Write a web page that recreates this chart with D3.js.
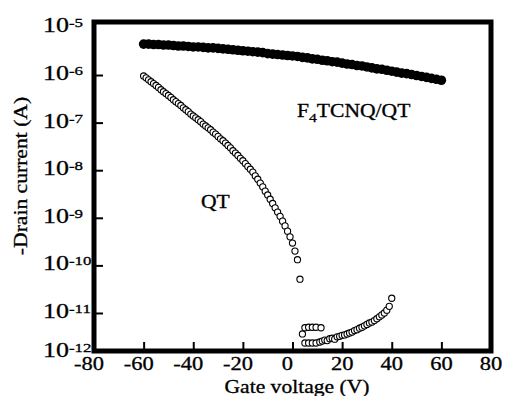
<!DOCTYPE html>
<html>
<head>
<meta charset="utf-8">
<script src="https://cdn.jsdelivr.net/npm/d3@7"></script>
<style>
  body { margin: 0; background: #fff; }
  text { font-family: "Liberation Serif", "Times New Roman", serif; fill: #000; stroke: #000; stroke-width: 0.3; }
</style>
</head>
<body>
<svg id="chart" width="505" height="396"></svg>
<script>
// gate voltage (V) and log10(-drain current / A)
const f4V = [-60,-58,-56,-54,-52,-50,-48,-46,-44,-42,-40,-38,-36,-34,-32,-30,-28,-26,-24,-22,
  -20,-18,-16,-14,-12,-10,-8,-6,-4,-2,0,2,4,6,8,10,12,14,16,18,20,22,24,26,28,30,32,34,36,38,
  40,42,44,46,48,50,52,54,56,58,60];
const f4LogI = [-5.35,-5.35,-5.36,-5.36,-5.37,-5.37,-5.38,-5.39,-5.39,-5.40,
  -5.41,-5.41,-5.42,-5.43,-5.43,-5.44,-5.45,-5.46,-5.47,-5.48,
  -5.49,-5.50,-5.51,-5.52,-5.53,-5.55,-5.56,-5.57,-5.58,-5.59,
  -5.60,-5.61,-5.63,-5.64,-5.66,-5.67,-5.69,-5.70,-5.72,-5.73,
  -5.75,-5.77,-5.78,-5.80,-5.81,-5.83,-5.85,-5.87,-5.88,-5.90,
  -5.92,-5.94,-5.96,-5.97,-5.99,-6.01,-6.03,-6.05,-6.07,-6.09,
  -6.11];

const qtSweepV = [-60,-59,-58,-57,-56,-55,-54,-53,-52,-51,-50,-49,-48,-47,-46,-45,-44,-43,-42,-41,
  -40,-39,-38,-37,-36,-35,-34,-33,-32,-31,-30,-29,-28,-27,-26,-25,-24,-23,-22,-21,
  -20,-19,-18,-17,-16,-15,-14,-13,-12,-11,-10,-9,-8,-7,-6,-5,-4,-3,-2,-1,0,1,2,3];
const qtSweepLogI = [-6.02,-6.06,-6.10,-6.14,-6.18,-6.22,-6.26,-6.31,-6.35,-6.39,
  -6.43,-6.47,-6.52,-6.56,-6.60,-6.64,-6.69,-6.73,-6.77,-6.82,
  -6.86,-6.90,-6.94,-6.98,-7.03,-7.07,-7.11,-7.15,-7.20,-7.24,
  -7.29,-7.34,-7.38,-7.43,-7.48,-7.53,-7.59,-7.64,-7.69,-7.75,
  -7.80,-7.86,-7.92,-7.98,-8.04,-8.12,-8.19,-8.27,-8.35,-8.44,
  -8.52,-8.61,-8.70,-8.79,-8.88,-8.97,-9.07,-9.17,-9.28,-9.40,
  -9.53,-9.70,-9.88,-10.29];

const qtLowV = [4, 5, 6.5, 8, 9.5, 11.5, 5, 6.5, 8, 9.5,
  11,12,13,14,15,16,17,18,19,20,21,22,23,24,25,26,27,28,29,30,31,32,33,34,35,36,37,38,39,40];
const qtLowLogI = [-11.44, -11.31,-11.30,-11.30,-11.30,-11.31, -11.63,-11.63,-11.63,-11.63,
  -11.61,-11.59,-11.57,-11.58,-11.54,-11.53,-11.55,-11.50,-11.49,-11.47,
  -11.46,-11.44,-11.42,-11.40,-11.37,-11.35,-11.32,-11.30,-11.27,-11.24,
  -11.21,-11.19,-11.16,-11.12,-11.08,-11.04,-11.00,-10.94,-10.86,-10.69];

const xTicks = [-80,-60,-40,-20,0,20,40,60,80];
const yExponents = [-5,-6,-7,-8,-9,-10,-11];
const yBottomExponent = -12;

const svg = d3.select("#chart");
svg.append("rect").attr("width", 505).attr("height", 396).attr("fill", "#fff");

const x = d3.scaleLinear().domain([-80, 80]).range([94, 491]);
const y = d3.scaleLog().domain([1.59e-12, 1.3e-5]).range([351, 22]);

const toPts = (vs, ls) => vs.map((v, i) => [v, Math.pow(10, ls[i])]);

// stretched serif text, the figure's lettering is wide
const label = (g, tx, ty, anchor, size, extra = "", sx = 1.2) =>
  g.append("text")
    .attr("transform", `translate(${tx},${ty}) ${extra} scale(${sx},1)`)
    .attr("text-anchor", anchor)
    .style("font-size", size + "px");

// ticks
svg.append("g")
  .attr("transform", `translate(${x(-80)},0)`)
  .call(d3.axisLeft(y).tickValues(yExponents.slice(1).map(e => Math.pow(10, e))).tickSize(-9).tickFormat(""))
  .call(g => g.select(".domain").remove())
  .call(g => g.selectAll("line").attr("stroke", "#000").attr("stroke-width", 2));

svg.append("g")
  .attr("transform", `translate(0,${y.range()[0]})`)
  .call(d3.axisBottom(x).tickValues(xTicks.slice(1, -1)).tickSize(-9).tickFormat(""))
  .call(g => g.select(".domain").remove())
  .call(g => g.selectAll("line").attr("stroke", "#000").attr("stroke-width", 2));

// data
svg.append("g").selectAll("circle")
  .data(toPts(f4V, f4LogI))
  .join("circle")
  .attr("cx", d => x(d[0])).attr("cy", d => y(d[1]))
  .attr("r", 4.8).attr("fill", "#000");

svg.append("g").selectAll("circle")
  .data(toPts(qtSweepV, qtSweepLogI).concat(toPts(qtLowV, qtLowLogI)))
  .join("circle")
  .attr("cx", d => x(d[0])).attr("cy", d => y(d[1]))
  .attr("r", 3.1).attr("fill", "#fff").attr("stroke", "#000").attr("stroke-width", 1.1);

// frame
svg.append("rect")
  .attr("x", x(-80)).attr("y", y.range()[1])
  .attr("width", x(80) - x(-80)).attr("height", y.range()[0] - y.range()[1])
  .attr("fill", "none").attr("stroke", "#000").attr("stroke-width", 5);

// tick labels
xTicks.forEach(v => {
  label(svg, x(v) + (v <= 0 ? -5 : 0), 370, "middle", 18, "", 1.25).text(v);
});

yExponents.forEach(e => {
  const t = label(svg, 43, y(Math.pow(10, e)) + 5, "start", 20, "", 1.3);
  t.append("tspan").text("10");
  t.append("tspan").attr("dy", -5).style("font-size", "13px").text(e);
});
{
  const t = label(svg, 43, y.range()[0] + 6, "start", 20, "", 1.3);
  t.append("tspan").text("10");
  t.append("tspan").attr("dy", -5).style("font-size", "13px").text(yBottomExponent);
}

// axis titles
label(svg, 297, 393, "middle", 18).text("Gate voltage (V)");
label(svg, 27, 176, "middle", 18, "rotate(-90)").text("-Drain current (A)");

// series labels
label(svg, 201, 208, "start", 18).text("QT");
{
  const t = label(svg, 297, 117, "start", 18);
  t.append("tspan").text("F");
  t.append("tspan").attr("dy", 5).style("font-size", "13px").text("4");
  t.append("tspan").attr("dy", -5).text("TCNQ/QT");
}
</script>
</body>
</html>
